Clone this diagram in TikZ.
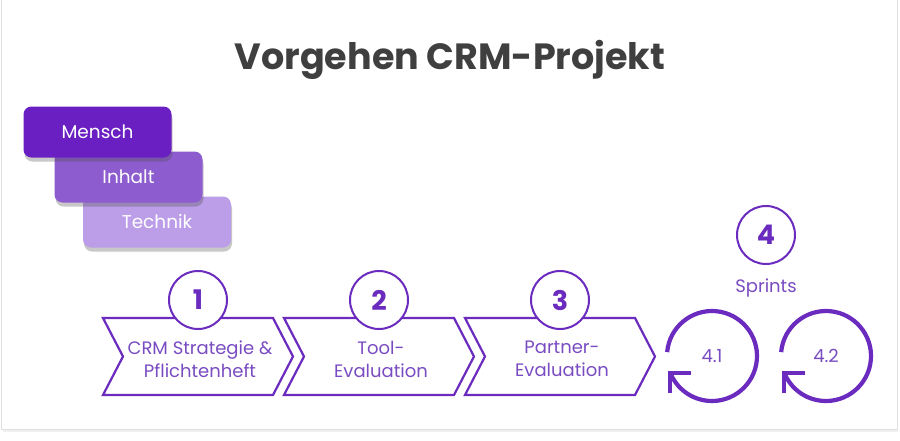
\documentclass[tikz,border=0pt]{standalone}
\definecolor{CRMPurple}{HTML}{6A2BBE}
\definecolor{CRMText}{HTML}{7A4CC2}
\definecolor{CRMDark}{HTML}{6A1FC2}
\definecolor{CRMMid}{HTML}{8D5CCE}
\definecolor{CRMLight}{HTML}{BB9DE8}
\definecolor{CRMGrey}{HTML}{3F3F3F}
\usepackage{fontspec}
\setmainfont{Poppins}
\usepackage{tikz}
\usetikzlibrary{arrows.meta,positioning,calc,shadows}

\begin{document}
\begin{tikzpicture}[x=1pt,y=-1pt,
  pillar/.style={rounded corners=8pt,minimum width=148pt,minimum height=51pt,
    text=white,font=\fontsize{18.5}{20}\selectfont,
    drop shadow={shadow xshift=1pt,shadow yshift=-4pt,opacity=0.3,fill=black!70}},
  stepnum/.style={circle,draw=CRMPurple,line width=2pt,fill=white,minimum size=58pt,
    inner sep=0pt,text=CRMPurple,font=\bfseries\fontsize{27}{28}\selectfont},
  chevron/.style={draw=CRMPurple,line width=2.2pt,fill=white,line join=miter},
  steptext/.style={align=center,text=CRMText,font=\fontsize{18}{23}\selectfont},
  sprint/.style={draw=CRMPurple,line width=4.2pt}]
  \useasboundingbox (0,0) rectangle (900,440);
  \fill[white] (0,0) rectangle (900,440);
  \draw[black!12,line width=1pt] (1.5,-2) -- (1.5,429) -- (897,429) -- (897,-2);
  \draw[black!6,line width=2pt] (3,431) -- (898,431);

  \node[font=\bfseries\fontsize{36.5}{40}\selectfont,text=CRMGrey] (title) at (450,60) {Vorgehen CRM-Projekt};

  \node[pillar,fill=CRMLight] (technik) at (157,222) {Technik};
  \node[pillar,fill=CRMMid] (inhalt) at (128.5,177) {Inhalt};
  \node[pillar,fill=CRMDark] (mensch) at (97.5,132) {Mensch};

  \foreach \x/\n/\t in {103/1/{CRM Strategie \&\\Pflichtenheft},284/2/{Tool-\\Evaluation},465/3/{Partner-\\Evaluation}}{
    \draw[chevron] (\x,318) -- ++(170,0) -- ++(20,38.5) -- ++(-20,38.5) -- ++(-170,0) -- ++(20,-38.5) -- cycle;
    \node[stepnum] (num\n) at (\x+95,300) {\n};
    \node[steptext] (step\n) at (\x+97,359) {\t};
  }

  \node[stepnum] (num4) at (766,235) {4};
  \node[steptext,below=10pt of num4] (sprints) {Sprints};

  \foreach \c/\n in {712/41,826/42}{
    \coordinate (c\n) at (\c,356);
    \draw[sprint] ($(c\n)+(-175:45)$) arc[start angle=-175,end angle=158,radius=45] coordinate (tip\n);
    \draw[sprint,line join=miter] ($(tip\n)+(21,0)$) -- (tip\n) -- ($(tip\n)+(0,20)$);
  }
  \node[steptext] (s41) at (c41) {4.1};
  \node[steptext] (s42) at (c42) {4.2};
\end{tikzpicture}
\end{document}
